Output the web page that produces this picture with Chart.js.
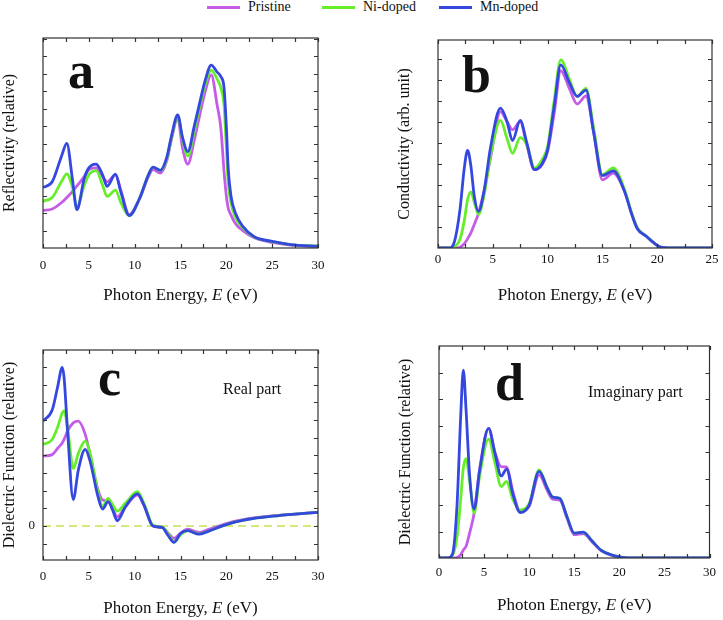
<!DOCTYPE html>
<html>
<head>
<meta charset="utf-8">
<script src="https://cdn.jsdelivr.net/npm/chart.js@4.4.0/dist/chart.umd.min.js"></script>
<style>
  body { margin: 0; background: #fff; }
  #wrap { position: relative; width: 723px; height: 620px; font-family: "Liberation Serif", "Times New Roman", serif; color: #111; }
  #wrap canvas { position: absolute; }
  .leg { position: absolute; top: 0; font-size: 14px; line-height: 14px; white-space: nowrap; }
  .sw { position: absolute; top: 6px; height: 3px; width: 33px; }
</style>
</head>
<body>
<div id="wrap">
  <div class="sw" style="left:207px;background:#c45ce8"></div><div class="leg" style="left:248px">Pristine</div>
  <div class="sw" style="left:322px;background:#66ee2a"></div><div class="leg" style="left:363px">Ni-doped</div>
  <div class="sw" style="left:439px;background:#3448e0"></div><div class="leg" style="left:480px">Mn-doped</div>

  <canvas id="pa" width="360" height="290" style="left:0;top:20px"></canvas>
  <canvas id="pb" width="363" height="290" style="left:360px;top:20px"></canvas>
  <canvas id="pc" width="360" height="310" style="left:0;top:310px"></canvas>
  <canvas id="pd" width="363" height="310" style="left:360px;top:310px"></canvas>
</div>
<script>
// series names
const seriesNames = ['Pristine', 'Ni-doped', 'Mn-doped'];

// (a) reflectivity
const aEnergy   = [0, 1, 2, 2.6, 3.2, 3.7, 4.5, 5, 5.8, 6.5, 7, 7.9, 8.5, 9.4, 10.5, 11.5, 12, 12.8, 13.5, 14, 14.7, 15.2, 15.8, 16.5, 17, 17.7, 18.35, 19, 19.4, 19.75, 20, 20.2, 20.5, 21, 21.8, 23, 25, 27, 30];
const aPristine = [1.08, 1.12, 1.3, 1.45, 1.62, 1.78, 2.05, 2.25, 2.3, 2.05, 1.9, 2.1, 1.65, 0.96, 1.4, 2.05, 2.25, 2.15, 2.5, 3.1, 3.73, 2.9, 2.41, 3.1, 3.7, 4.5, 4.97, 4.1, 3.45, 2.2, 1.5, 1.15, 0.95, 0.7, 0.5, 0.3, 0.16, 0.08, 0.04];
const aNi       = [1.34, 1.45, 1.9, 2.13, 1.75, 1.18, 1.8, 2.1, 2.22, 1.8, 1.48, 1.66, 1.3, 0.93, 1.4, 2.1, 2.32, 2.22, 2.55, 3.15, 3.78, 3.15, 2.64, 3.35, 3.95, 4.7, 5.11, 4.85, 4.6, 4.1, 2.9, 1.9, 1.3, 0.88, 0.58, 0.32, 0.18, 0.1, 0.05];
const aMn       = [1.74, 1.9, 2.62, 3.0, 2.0, 1.1, 2.0, 2.3, 2.41, 2.1, 1.77, 2.12, 1.6, 0.93, 1.4, 2.1, 2.32, 2.23, 2.6, 3.2, 3.82, 3.2, 2.77, 3.5, 4.06, 4.82, 5.25, 5.05, 4.92, 4.6, 3.5, 2.3, 1.5, 1.0, 0.62, 0.33, 0.19, 0.1, 0.05];

// (b) conductivity
const bEnergy   = [0, 1, 1.5, 2, 2.4, 2.7, 3, 3.3, 3.7, 4.2, 4.8, 5.7, 6.3, 6.8, 7.5, 8.1, 8.8, 9.5, 10, 10.6, 11.2, 12, 12.7, 13.5, 14.2, 15, 16, 17, 17.7, 18.2, 19, 19.7, 20.3, 21, 25];
const bPristine = [0, 0, 0, 0.02, 0.1, 0.22, 0.36, 0.55, 0.83, 1.35, 2.15, 3.24, 3.0, 2.81, 3.0, 2.45, 1.86, 1.98, 2.29, 3.2, 4.21, 3.78, 3.42, 3.61, 2.75, 1.62, 1.78, 1.36, 0.8, 0.47, 0.28, 0.12, 0.02, 0, 0];
const bNi       = [0, 0, 0.03, 0.2, 0.65, 1.15, 1.33, 1.1, 0.8, 1.25, 2.2, 3.03, 2.6, 2.25, 2.62, 2.45, 1.9, 2.1, 2.41, 3.5, 4.47, 4.0, 3.6, 3.79, 2.85, 1.74, 1.9, 1.4, 0.8, 0.47, 0.28, 0.12, 0.02, 0, 0];
const bMn       = [0, 0, 0.15, 0.9, 1.9, 2.32, 1.95, 1.25, 0.87, 1.35, 2.4, 3.32, 3.0, 2.55, 3.03, 2.5, 1.86, 2.0, 2.33, 3.36, 4.35, 3.92, 3.6, 3.75, 2.75, 1.72, 1.83, 1.36, 0.78, 0.45, 0.28, 0.12, 0.02, 0, 0];

// (c) dielectric function, real part
const cEnergy   = [0, 1, 1.6, 2.1, 2.3, 2.7, 3.3, 3.85, 4.6, 5.1, 6, 6.5, 7.1, 7.6, 8.1, 9, 10.3, 11, 12, 13, 13.6, 14.3, 15, 15.8, 17, 18, 19.5, 21, 23, 25, 27.5, 30];
const cPristine = [1.98, 2.02, 2.2, 2.35, 2.45, 2.7, 2.92, 2.97, 2.6, 2.06, 1.02, 0.74, 0.71, 0.5, 0.26, 0.55, 0.88, 0.6, 0.0, -0.04, -0.18, -0.35, -0.2, -0.09, -0.18, -0.1, 0.03, 0.14, 0.23, 0.29, 0.34, 0.39];
const cNi       = [2.31, 2.45, 2.8, 3.2, 3.26, 2.75, 1.63, 2.05, 2.4, 2.1, 0.95, 0.55, 0.78, 0.6, 0.42, 0.65, 0.97, 0.65, 0.02, -0.03, -0.2, -0.45, -0.25, -0.13, -0.22, -0.15, 0.0, 0.12, 0.22, 0.28, 0.34, 0.39];
const cMn       = [2.97, 3.28, 3.94, 4.49, 4.2, 2.6, 0.75, 1.58, 2.17, 1.87, 0.83, 0.48, 0.69, 0.45, 0.15, 0.55, 0.91, 0.6, 0.0, -0.04, -0.25, -0.46, -0.21, -0.13, -0.23, -0.15, 0.0, 0.12, 0.22, 0.28, 0.34, 0.39];
const cZeroEnergy = [0, 30];
const cZero       = [0, 0];

// (d) dielectric function, imaginary part
const dEnergy   = [0, 1, 1.5, 2, 2.4, 2.7, 3, 3.4, 3.9, 4.5, 5.5, 6.2, 6.9, 7.5, 8.2, 9, 10, 11.1, 12, 12.6, 13.4, 14.2, 15, 16, 17, 18, 19, 20, 21, 30];
const dPristine = [0, 0, 0, 0.02, 0.12, 0.3, 0.44, 0.95, 1.7, 3.33, 4.9, 4.0, 3.45, 3.44, 2.5, 1.76, 1.95, 3.14, 2.55, 2.22, 2.18, 1.5, 0.88, 0.92, 0.6, 0.27, 0.12, 0.03, 0, 0];
const dNi       = [0, 0, 0.1, 0.8, 2.2, 3.4, 3.75, 2.9, 1.7, 3.1, 4.49, 3.6, 2.7, 2.89, 2.2, 1.82, 2.05, 3.33, 2.65, 2.3, 2.25, 1.55, 0.94, 0.98, 0.63, 0.29, 0.13, 0.04, 0, 0];
const dMn       = [0, 0, 0.15, 2.0, 5.3, 7.1, 5.6, 3.1, 1.85, 3.3, 4.9, 3.96, 3.1, 3.36, 2.4, 1.72, 2.0, 3.27, 2.65, 2.3, 2.25, 1.55, 0.94, 0.98, 0.63, 0.29, 0.13, 0.04, 0, 0];

const colors = ['#c45ce8', '#66ee2a', '#3448e0'];
const FONT = '"Liberation Serif", "Times New Roman", serif';

function pts(xs, ys) {
    return xs.map((x, i) => ({x: x, y: ys[i]}));
}

function range(from, to, step) {
    let out = [];
    for (let v = from; v <= to + 1e-9; v += step) out.push(+v.toFixed(3));
    return out;
}

// box + inward tick marks on all four sides, x title with italic E, in-plot text
const frameTicks = {
    id: 'frameTicks',
    afterDraw(chart, args, opts) {
        const {ctx, chartArea: a} = chart;
        const x = chart.scales.x, y = chart.scales.y;
        ctx.save();
        ctx.strokeStyle = '#333';
        ctx.lineWidth = 1.2;
        ctx.strokeRect(a.left, a.top, a.right - a.left, a.bottom - a.top);
        ctx.beginPath();
        opts.xTicks.forEach(v => {
            const px = Math.round(x.getPixelForValue(v)) + 0.5;
            ctx.moveTo(px, a.bottom); ctx.lineTo(px, a.bottom - 4);
            ctx.moveTo(px, a.top); ctx.lineTo(px, a.top + 4);
        });
        opts.yTicks.forEach(v => {
            const py = Math.round(y.getPixelForValue(v)) + 0.5;
            ctx.moveTo(a.left, py); ctx.lineTo(a.left + 4, py);
            ctx.moveTo(a.right, py); ctx.lineTo(a.right - 4, py);
        });
        ctx.stroke();

        ctx.fillStyle = '#111';
        ctx.textBaseline = 'alphabetic';
        opts.labels.forEach(l => {
            ctx.font = l.font;
            ctx.fillText(l.text, a.left + l.dx, a.top + l.dy);
        });

        // x axis title: "Photon Energy, E (eV)" with italic E
        const parts = [['Photon Energy, ', ''], ['E', 'italic '], [' (eV)', '']];
        let total = 0;
        parts.forEach(pt => { ctx.font = pt[1] + '17px ' + FONT; total += ctx.measureText(pt[0]).width; });
        let cx = (a.left + a.right) / 2 - total / 2;
        const by = a.bottom + opts.titleDy;
        ctx.textAlign = 'left';
        parts.forEach(pt => {
            ctx.font = pt[1] + '17px ' + FONT;
            ctx.fillText(pt[0], cx, by);
            cx += ctx.measureText(pt[0]).width;
        });
        ctx.restore();
    }
};

function makePanel(id, p) {
    const datasets = [p.pristine, p.ni, p.mn].map((ys, i) => ({
        label: seriesNames[i],
        data: pts(p.energy, ys),
        borderColor: colors[i],
        borderWidth: 2.8,
        pointRadius: 0,
        fill: false,
        cubicInterpolationMode: 'monotone',
        order: 3 - i
    }));
    if (p.zero) {
        datasets.push({
            label: 'zero',
            data: pts(cZeroEnergy, cZero),
            borderColor: '#c4e250',
            borderWidth: 1.6,
            borderDash: [8, 5],
            pointRadius: 0,
            order: 4
        });
    }
    return new Chart(document.getElementById(id), {
        type: 'line',
        data: {datasets: datasets},
        options: {
            responsive: false,
            devicePixelRatio: 1,
            animation: false,
            layout: {padding: p.padding},
            plugins: {
                legend: {display: false},
                tooltip: {enabled: false},
                frameTicks: {xTicks: p.xTicks, yTicks: p.yTicks, labels: p.labels, titleDy: p.titleDy}
            },
            scales: {
                x: {
                    type: 'linear',
                    min: 0,
                    max: p.xMax,
                    grid: {display: false, drawTicks: false},
                    border: {display: false},
                    ticks: {stepSize: 5, padding: p.xTickPad, color: '#111', font: {family: FONT, size: 13}, maxRotation: 0},
                    title: {display: false},
                    afterFit: s => { s.height = p.xHeight; }
                },
                y: {
                    min: p.yMin,
                    max: p.yMax,
                    grid: {display: false, drawTicks: false},
                    border: {display: false},
                    ticks: {
                        display: !!p.zero,
                        stepSize: 1,
                        padding: 8,
                        color: '#111',
                        font: {family: FONT, size: 13},
                        callback: v => Math.abs(v) < 1e-9 ? '0' : ''
                    },
                    title: {display: true, text: p.yTitle, color: '#111', font: {family: FONT, size: 16}, padding: {top: p.yTitlePad, bottom: 0}},
                    afterFit: s => { s.width = p.yWidth; }
                }
            }
        },
        plugins: [frameTicks]
    });
}

const bigLetter = 'bold 52px ' + FONT;
const noteFont = '16px ' + FONT;

makePanel('pa', {
    energy: aEnergy, pristine: aPristine, ni: aNi, mn: aMn,
    padding: {top: 18, right: 42, left: 0, bottom: 0},
    yWidth: 43, xHeight: 62, xMax: 30, yMin: 0, yMax: 6.03,
    xTickPad: 10, titleDy: 52, yTitlePad: 0.4,
    yTitle: 'Reflectivity (relative)',
    xTicks: range(0, 30, 2.5), yTicks: range(0.5, 6, 0.5),
    labels: [{text: 'a', font: bigLetter, dx: 25, dy: 50}]
});

makePanel('pb', {
    energy: bEnergy, pristine: bPristine, ni: bNi, mn: bMn,
    padding: {top: 20, right: 11, left: 0, bottom: 0},
    yWidth: 78, xHeight: 62, xMax: 25, yMin: 0, yMax: 4.94,
    xTickPad: 4, titleDy: 52, yTitlePad: 35,
    yTitle: 'Conductivity (arb. unit)',
    xTicks: range(0, 25, 2.5), yTicks: range(0.5, 4.5, 0.5),
    labels: [{text: 'b', font: bigLetter, dx: 24, dy: 52}]
});

makePanel('pc', {
    energy: cEnergy, pristine: cPristine, ni: cNi, mn: cMn, zero: true,
    padding: {top: 40, right: 42, left: 0, bottom: 0},
    yWidth: 43, xHeight: 60, xMax: 30, yMin: -0.96, yMax: 4.98,
    xTickPad: 9, titleDy: 53, yTitlePad: 0.4,
    yTitle: 'Dielectric Function (relative)',
    xTicks: range(0, 30, 2.5), yTicks: range(-0.5, 4.5, 0.5),
    labels: [{text: 'c', font: bigLetter, dx: 55, dy: 45}, {text: 'Real part', font: noteFont, dx: 180, dy: 44}]
});

makePanel('pd', {
    energy: dEnergy, pristine: dPristine, ni: dNi, mn: dMn,
    padding: {top: 36, right: 10, left: 0, bottom: 0},
    yWidth: 79, xHeight: 62, xMax: 30, yMin: 0, yMax: 8.01,
    xTickPad: 7, titleDy: 52, yTitlePad: 36.4,
    yTitle: 'Dielectric Function (relative)',
    xTicks: range(0, 30, 2.5), yTicks: range(1, 7, 1),
    labels: [{text: 'd', font: bigLetter, dx: 56, dy: 54}, {text: 'Imaginary part', font: noteFont, dx: 149, dy: 51}]
});
</script>
</body>
</html>
